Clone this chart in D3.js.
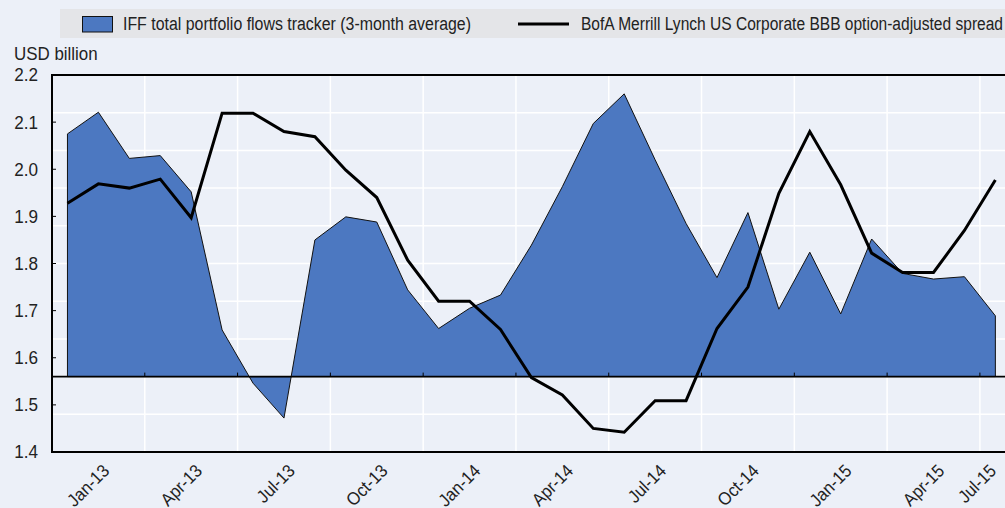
<!DOCTYPE html>
<html>
<head>
<meta charset="utf-8">
<script src="https://cdn.jsdelivr.net/npm/d3@7"></script>
<style>
  body { margin: 0; background: #ecf0f8; }
  svg text { font-family: "Liberation Sans Narrow", "Arial Narrow", "Liberation Sans", sans-serif; fill: #222; }
</style>
</head>
<body>
<div id="chart"></div>
<script>
// months on the category axis
const months = ["Jan-13","Feb-13","Mar-13","Apr-13","May-13","Jun-13","Jul-13","Aug-13","Sep-13",
  "Oct-13","Nov-13","Dec-13","Jan-14","Feb-14","Mar-14","Apr-14","May-14","Jun-14","Jul-14",
  "Aug-14","Sep-14","Oct-14","Nov-14","Dec-14","Jan-15","Feb-15","Mar-15","Apr-15","May-15",
  "Jun-15","Jul-15"];

// IFF total portfolio flows tracker (3-month average), read on the left scale
const flows = [2.075, 2.121, 2.023, 2.029, 1.952, 1.659, 1.546, 1.472, 1.850, 1.899, 1.888,
  1.744, 1.662, 1.705, 1.733, 1.839, 1.963, 2.097, 2.160, 2.020, 1.885, 1.770, 1.908, 1.703,
  1.824, 1.693, 1.852, 1.779, 1.767, 1.772, 1.689];

// BofA Merrill Lynch US Corporate BBB option-adjusted spread
const spread = [1.928, 1.969, 1.960, 1.979, 1.897, 2.119, 2.119, 2.080, 2.069, 1.998, 1.940,
  1.807, 1.720, 1.720, 1.660, 1.558, 1.521, 1.450, 1.442, 1.509, 1.509, 1.662, 1.750, 1.949,
  2.080, 1.967, 1.822, 1.781, 1.781, 1.870, 1.977];

const yTicks = [1.4, 1.5, 1.6, 1.7, 1.8, 1.9, 2.0, 2.1, 2.2];
const legendLabels = ["IFF total portfolio flows tracker (3-month average)",
  "BofA Merrill Lynch US Corporate BBB option-adjusted spread"];

const W = 1005, H = 508;
const margin = { top: 75, left: 52, bottom: 56 };
const monthW = 30.93;
const plotRight = margin.left + monthW * months.length;
const plotBottom = H - margin.bottom;

const svg = d3.select("#chart").append("svg")
  .attr("width", W).attr("height", H);

svg.append("rect").attr("width", W).attr("height", H).attr("fill", "#ecf0f8");

const x = d3.scaleBand().domain(months).range([margin.left, plotRight]);
const y = d3.scaleLinear().domain([1.4, 2.2]).range([plotBottom, margin.top]);
// hidden secondary scale that carries the gridlines and the zero baseline
const grid = d3.scaleLinear().domain([0, 10]).range([plotBottom, margin.top]);
const base = grid(2);

const cx = m => x(m) + x.bandwidth() / 2;

// squeeze a text to look like a narrow face
function narrow(sel, k) {
  sel.each(function () {
    const w = this.getComputedTextLength();
    d3.select(this).attr("textLength", w * k).attr("lengthAdjust", "spacingAndGlyphs");
  });
}

// gridlines
svg.append("g").selectAll("line.h")
  .data(d3.range(1, 10)).enter().append("line")
  .attr("x1", margin.left).attr("x2", plotRight)
  .attr("y1", d => grid(d)).attr("y2", d => grid(d))
  .attr("stroke", "#fff").attr("stroke-width", 1.5);

const qStarts = months.filter((m, i) => i % 3 === 0);
svg.append("g").selectAll("line.v")
  .data(qStarts.slice(1)).enter().append("line")
  .attr("x1", d => x(d)).attr("x2", d => x(d))
  .attr("y1", margin.top).attr("y2", plotBottom)
  .attr("stroke", "#fff").attr("stroke-width", 1.5);

// flows area
const area = d3.area()
  .x((d, i) => cx(months[i]))
  .y0(base)
  .y1(d => y(d));

svg.append("path")
  .datum(flows)
  .attr("d", area)
  .attr("fill", "#4c78c1")
  .attr("stroke", "#111")
  .attr("stroke-width", 1)
  .attr("stroke-linejoin", "miter");

// spread line
const line = d3.line()
  .x((d, i) => cx(months[i]))
  .y(d => y(d));

svg.append("path")
  .datum(spread)
  .attr("d", line)
  .attr("fill", "none")
  .attr("stroke", "#000")
  .attr("stroke-width", 3)
  .attr("stroke-linejoin", "miter");

// frame and baseline
svg.append("line")
  .attr("x1", margin.left).attr("x2", plotRight)
  .attr("y1", margin.top).attr("y2", margin.top)
  .attr("stroke", "#000").attr("stroke-width", 2);
svg.append("line")
  .attr("x1", margin.left).attr("x2", plotRight)
  .attr("y1", plotBottom).attr("y2", plotBottom)
  .attr("stroke", "#000").attr("stroke-width", 2);
svg.append("line")
  .attr("x1", margin.left).attr("x2", margin.left)
  .attr("y1", margin.top - 1).attr("y2", plotBottom + 1)
  .attr("stroke", "#000").attr("stroke-width", 2);
svg.append("line")
  .attr("x1", margin.left).attr("x2", plotRight)
  .attr("y1", base).attr("y2", base)
  .attr("stroke", "#000").attr("stroke-width", 1.6);

// x ticks on the baseline
svg.append("g").selectAll("line")
  .data(qStarts.slice(1)).enter().append("line")
  .attr("x1", d => x(d)).attr("x2", d => x(d))
  .attr("y1", base).attr("y2", base - 4)
  .attr("stroke", "#000").attr("stroke-width", 1);

// y ticks
svg.append("g").selectAll("line")
  .data(yTicks).enter().append("line")
  .attr("x1", margin.left).attr("x2", margin.left + 4)
  .attr("y1", d => y(d)).attr("y2", d => y(d))
  .attr("stroke", "#000").attr("stroke-width", 1);

svg.append("g").selectAll("text")
  .data(yTicks).enter().append("text")
  .attr("x", 38).attr("y", d => y(d))
  .attr("dy", "0.36em")
  .attr("text-anchor", "end")
  .attr("font-size", "18px")
  .text(d => d.toFixed(1))
  .call(narrow, 0.95);

svg.append("text")
  .attr("x", 14).attr("y", 60)
  .attr("font-size", "18px")
  .text("USD billion")
  .call(narrow, 0.94);

// x labels, centred on each quarter (the last one is pulled back inside)
const lastMonth = months[months.length - 1];
svg.append("g").selectAll("text")
  .data(qStarts).enter().append("text")
  .attr("transform", d => {
    const i = months.indexOf(d);
    let px = x(months[i]) + x.bandwidth() * 1.5 + 12;
    px = Math.min(px, cx(lastMonth) + 2);
    return `translate(${px},${plotBottom + 20}) rotate(-45)`;
  })
  .attr("text-anchor", "end")
  .attr("font-size", "18px")
  .text(d => d)
  .call(narrow, 0.92);

// legend
svg.append("rect")
  .attr("x", 60).attr("y", 9).attr("width", W - 60).attr("height", 29)
  .attr("fill", "#e4e5e8");
svg.append("rect")
  .attr("x", 82.5).attr("y", 16.5).attr("width", 30).attr("height", 15.5)
  .attr("fill", "#4c78c1").attr("stroke", "#111").attr("stroke-width", 1);
svg.append("text")
  .attr("x", 123).attr("y", 30)
  .attr("font-size", "18px")
  .attr("textLength", 348).attr("lengthAdjust", "spacingAndGlyphs")
  .text(legendLabels[0]);
svg.append("line")
  .attr("x1", 518).attr("x2", 569).attr("y1", 24).attr("y2", 24)
  .attr("stroke", "#000").attr("stroke-width", 3);
svg.append("text")
  .attr("x", 581).attr("y", 30)
  .attr("font-size", "18px")
  .attr("textLength", 422).attr("lengthAdjust", "spacingAndGlyphs")
  .text(legendLabels[1]);
</script>
</body>
</html>
